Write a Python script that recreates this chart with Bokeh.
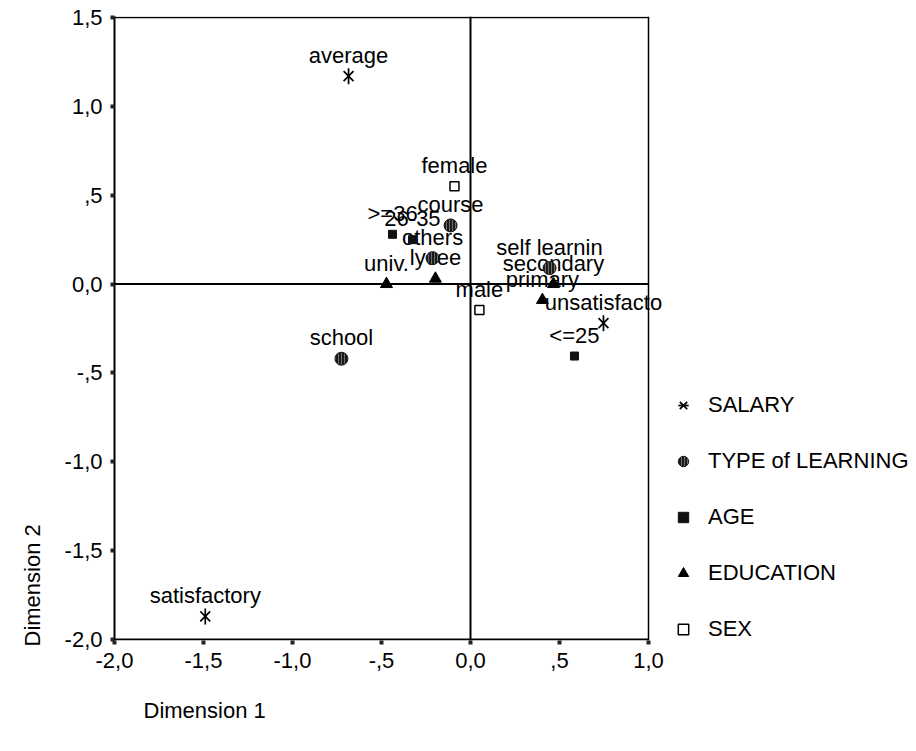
import math
from bokeh.plotting import figure
from bokeh.models import ColumnDataSource, Span, Legend, LegendItem, FixedTicker, Title, Range1d
from bokeh.core.properties import value
from bokeh.embed import file_html
from bokeh.resources import INLINE

FONT = "Liberation Sans"

# ---- data ----
salary_labels = ["average", "satisfactory", "unsatisfacto"]
salary_x = [-0.685, -1.49, 0.747]
salary_y = [1.17, -1.87, -0.22]

learning_labels = ["school", "course", "self learnin", "others"]
learning_x = [-0.725, -0.112, 0.444, -0.213]
learning_y = [-0.42, 0.33, 0.09, 0.146]

age_labels = [">=36", "26-35", "<=25"]
age_x = [-0.438, -0.326, 0.584]
age_y = [0.28, 0.25, -0.405]

edu_labels = ["univ.", "lycee", "secondary", "primary"]
edu_x = [-0.472, -0.197, 0.466, 0.404]
edu_y = [0.0, 0.03, 0.0, -0.09]

sex_labels = ["female", "male"]
sex_x = [-0.09, 0.05]
sex_y = [0.55, -0.146]

legend_names = ["SALARY", "TYPE of LEARNING", "AGE", "EDUCATION", "SEX"]

x_ticks = [-2.0, -1.5, -1.0, -0.5, 0.0, 0.5, 1.0]
x_tick_labels = ["-2,0", "-1,5", "-1,0", "-,5", "0,0", ",5", "1,0"]
y_ticks = [-2.0, -1.5, -1.0, -0.5, 0.0, 0.5, 1.0, 1.5]
y_tick_labels = ["-2,0", "-1,5", "-1,0", "-,5", "0,0", ",5", "1,0", "1,5"]

x_title = "Dimension 1"
y_title = "Dimension 2"

# ---- layout (pixels) ----
BOX_W, BOX_H = 534, 622          # size of the drawn axes box
FRAME_W = 794                    # frame extends right so the legend can sit beside the box
PAD = 1                          # pixels of frame beyond the box top/bottom
ppx = BOX_W / (x_ticks[-1] - x_ticks[0])
ppy = BOX_H / (y_ticks[-1] - y_ticks[0])
x0, x1 = x_ticks[0], x_ticks[-1]
y0, y1 = y_ticks[0], y_ticks[-1]

p = figure(frame_width=FRAME_W, frame_height=BOX_H + 2 * PAD,
           x_range=Range1d(x0, x0 + FRAME_W / ppx),
           y_range=Range1d(y0 - PAD / ppy, y1 + PAD / ppy),
           output_backend="svg", toolbar_location=None,
           min_border_left=114, min_border_right=0,
           min_border_top=16, min_border_bottom=104)
p.grid.visible = False
p.background_fill_color = "white"
p.border_fill_color = "white"
p.outline_line_color = None

for ax, ticks, labels in ((p.xaxis[0], x_ticks, x_tick_labels), (p.yaxis[0], y_ticks, y_tick_labels)):
    ax.ticker = FixedTicker(ticks=ticks)
    ax.major_label_overrides = {t: l for t, l in zip(ticks, labels)}
    ax.axis_line_color = "black"
    ax.axis_line_width = 2
    ax.major_tick_in = 0
    ax.major_tick_out = 4
    ax.major_tick_line_width = 4
    ax.major_tick_line_color = "#222222"
    ax.minor_tick_line_color = None
    ax.major_label_text_font = FONT
    ax.major_label_text_font_size = "22px"
    ax.major_label_text_color = "black"
    ax.major_label_standoff = 8
p.xaxis[0].axis_line_color = None

# box borders and reference lines
p.segment(x0=[x0, x0, x0], y0=[y0, 0.0, y1], x1=[x1, x1, x1], y1=[y0, 0.0, y1],
          line_color="black", line_width=[2, 2, 1.5])
p.add_layout(Span(location=x1, dimension="height", line_color="black", line_width=1.5))
p.add_layout(Span(location=0, dimension="height", line_color="black", line_width=2))

# point labels
all_x = salary_x + learning_x + age_x + edu_x + sex_x
all_y = salary_y + learning_y + age_y + edu_y + sex_y
all_l = salary_labels + learning_labels + age_labels + edu_labels + sex_labels
lab_src = ColumnDataSource(dict(x=all_x, y=all_y, label=all_l))
p.text(x="x", y="y", text="label", source=lab_src, text_font=value(FONT),
       text_font_size="22px", text_align="center", text_baseline="middle",
       y_offset=-21, text_color="black")

# markers
sal_src = ColumnDataSource(dict(x=salary_x, y=salary_y))
r_sal1 = p.scatter("x", "y", source=sal_src, marker="x", size=14, line_color="black", line_width=1.7)
r_sal2 = p.scatter("x", "y", source=sal_src, marker="dash", angle=math.pi / 2, size=16,
                   line_color="black", line_width=1.7)

learn_src = ColumnDataSource(dict(x=learning_x, y=learning_y))
r_learn = p.scatter("x", "y", source=learn_src, marker="circle", size=13,
                    fill_color="#1a1a1a", line_color="#1a1a1a", line_width=1,
                    hatch_pattern="|", hatch_color="#6e6e6e", hatch_scale=3, hatch_weight=1)

age_src = ColumnDataSource(dict(x=age_x, y=age_y))
r_age = p.scatter("x", "y", source=age_src, marker="square", size=8,
                  fill_color="#111111", line_color="#111111", line_width=1)

edu_src = ColumnDataSource(dict(x=edu_x, y=edu_y))
r_edu = p.scatter("x", "y", source=edu_src, marker="triangle", size=12,
                  fill_color="black", line_color="black", line_width=1)

sex_src = ColumnDataSource(dict(x=sex_x, y=sex_y))
r_sex = p.scatter("x", "y", source=sex_src, marker="square", size=9,
                  fill_color="white", line_color="black", line_width=1.5)

legend = Legend(items=[
    LegendItem(label=legend_names[0], renderers=[r_sal1, r_sal2]),
    LegendItem(label=legend_names[1], renderers=[r_learn]),
    LegendItem(label=legend_names[2], renderers=[r_age]),
    LegendItem(label=legend_names[3], renderers=[r_edu]),
    LegendItem(label=legend_names[4], renderers=[r_sex]),
], location=(BOX_W + 22, -2))
legend.label_text_font = FONT
legend.label_text_font_size = "22px"
legend.label_text_color = "black"
legend.glyph_width = 26
legend.glyph_height = 26
legend.label_height = 24
legend.spacing = 30
legend.label_standoff = 12
legend.padding = 0
legend.margin = 0
legend.border_line_color = None
legend.background_fill_alpha = 0
p.add_layout(legend)

p.add_layout(Title(text=x_title, align="left", offset=29, standoff=51, text_color="black",
                   text_font=FONT, text_font_size="22px", text_font_style="normal"), "below")
p.add_layout(Title(text=y_title, align="left", offset=-6, standoff=34, text_color="black",
                   text_font=FONT, text_font_size="22px", text_font_style="normal"), "left")

open("out.html", "w").write(file_html(p, INLINE))
